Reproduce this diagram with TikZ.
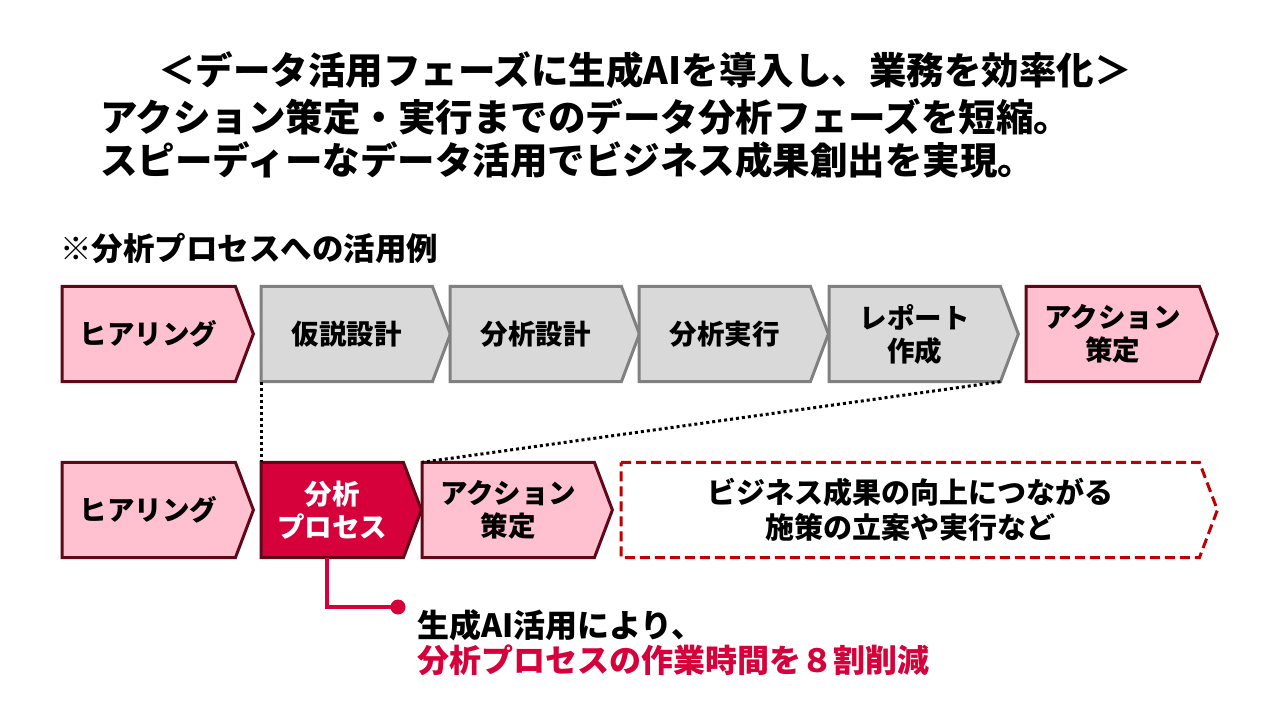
\documentclass[tikz,border=0pt]{standalone}
\usepackage{fontspec}
\setmainfont{Noto Sans CJK JP}
\usetikzlibrary{backgrounds,calc}
\definecolor{pinkfill}{RGB}{255,193,208}
\definecolor{maroon}{RGB}{96,8,24}
\definecolor{grayfill}{RGB}{217,217,217}
\definecolor{grayline}{RGB}{128,128,128}
\definecolor{crimson}{RGB}{214,0,58}
\definecolor{dashred}{RGB}{192,0,0}
\tikzset{
  pinkbox/.style={fill=pinkfill,draw=maroon,line width=3pt},
  graybox/.style={fill=grayfill,draw=grayline,line width=3pt},
  redbox/.style={fill=crimson,draw=maroon,line width=3pt},
  dashbox/.style={fill=white,draw=dashred,line width=3pt,dash pattern=on 10pt off 5pt},
  boxtext/.style={font=\fontsize{27.5}{33}\selectfont\bfseries,align=center,text=black},
  whitetext/.style={boxtext,text=white},
  bigtext/.style={font=\fontsize{29}{35}\selectfont\bfseries,align=center,text=black},
  titletext/.style={font=\fontsize{37.5}{45}\selectfont\bfseries,text=black,inner sep=0},
  subtext/.style={font=\fontsize{31.5}{35}\selectfont\bfseries,text=black,inner sep=0,anchor=west},
  notetext/.style={font=\fontsize{32}{35}\selectfont\bfseries,text=black,inner sep=0,anchor=west},
  dotline/.style={draw=black,line width=3pt,dash pattern=on 3pt off 3pt},
  redline/.style={draw=crimson,line width=4.5pt}
}
% #1 name, #2 polygon style, #3 text style, #4 left x, #5 body right x, #6 centre y, #7 text
\newcommand\chev[7]{%
  \node[#3,minimum width={#5-#4},minimum height=95,inner sep=0,anchor=west] (#1) at (#4,#6) {#7};
  \begin{scope}[on background layer]
    \draw[#2] (#1.north west) -- (#1.north east) -- ([xshift=18]#1.east) -- (#1.south east) -- (#1.south west) -- cycle;
  \end{scope}}
\begin{document}
\begin{tikzpicture}[x=1pt,y=-1pt]
\useasboundingbox (0,0) rectangle (1280,720);
\begin{scope}[on background layer]
\fill[white] (0,0) rectangle (1280,720);
\end{scope}
% title
\node[titletext] (t1) at (645,70) {＜データ活用フェーズに生成AIを導入し、業務を効率化＞};
\node[titletext,anchor=west] (t2) at (100,117) {アクション策定・実行までのデータ分析フェーズを短縮。};
\node[titletext,anchor=west] (t3) at (100,160) {スピーディーなデータ活用でビジネス成果創出を実現。};
\node[subtext] (sub) at (60,248) {※分析プロセスへの活用例};
% top row
\chev{a1}{pinkbox}{boxtext}{62}{235}{334}{ヒアリング}
\chev{a2}{graybox}{boxtext}{261}{432}{334}{仮説設計}
\chev{a3}{graybox}{boxtext}{450}{621}{334}{分析設計}
\chev{a4}{graybox}{boxtext}{639}{810}{334}{分析実行}
\chev{a5}{graybox}{boxtext}{829}{1000}{334}{レポート\\作成}
\chev{a6}{pinkbox}{boxtext}{1026}{1199}{334}{アクション\\策定}
% bottom row
\chev{b1}{pinkbox}{boxtext}{62}{235}{510}{ヒアリング}
\chev{b2}{redbox}{whitetext}{261}{403}{510}{分析\\プロセス}
\chev{b3}{pinkbox}{boxtext}{422}{594}{510}{アクション\\策定}
\chev{b4}{dashbox}{bigtext}{621}{1199}{510}{ビジネス成果の向上につながる\\施策の立案や実行など}
% dotted zoom lines
\draw[dotline] (a2.south west) -- (b2.north west);
\draw[dotline] (a5.south east) -- (b3.north west);
% callout
\coordinate (cdot) at (398,607);
\draw[redline] ([xshift=-5]b2.south) |- (cdot);
\fill[crimson] (cdot) circle (7.5);
\node[notetext] (n1) at (417,625) {生成AI活用により、};
\node[notetext,text=crimson] (n2) at (417,660) {分析プロセスの作業時間を８割削減};
\end{tikzpicture}
\end{document}
